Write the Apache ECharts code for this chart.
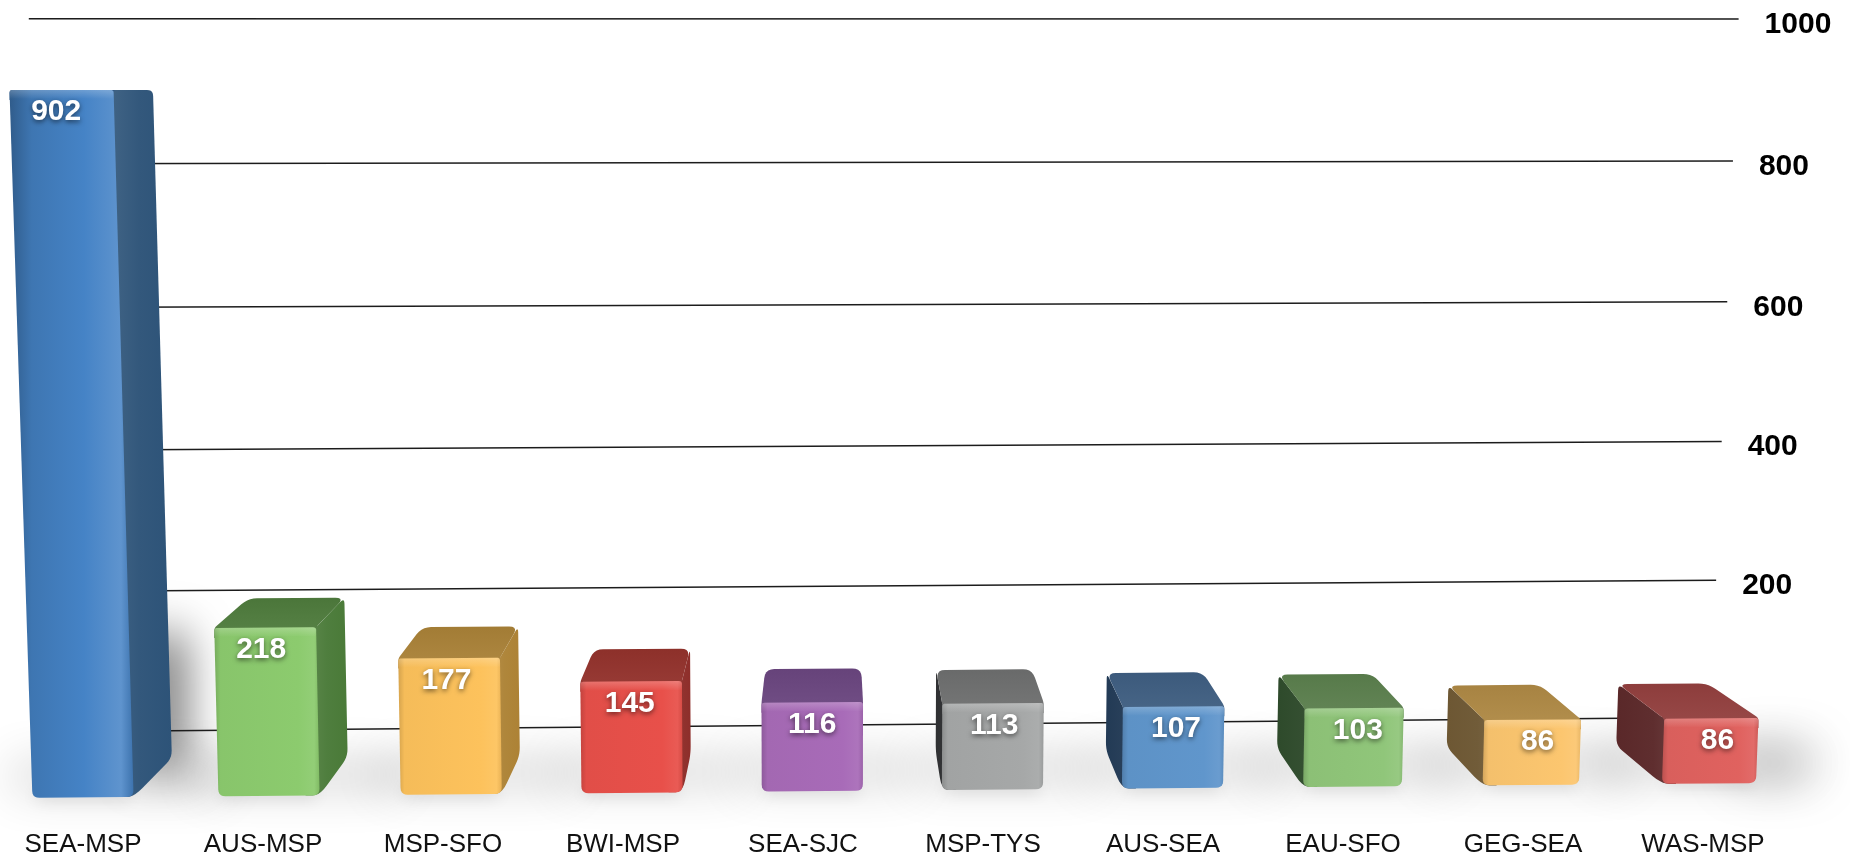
<!DOCTYPE html>
<html><head><meta charset="utf-8">
<style>html,body{margin:0;padding:0;background:#fff}#c{width:1850px;height:859px}</style>
<script src="https://cdn.jsdelivr.net/npm/echarts@6/dist/echarts.min.js"></script>
</head><body><div id="c"></div>
<script>
const categories = ['SEA-MSP','AUS-MSP','MSP-SFO','BWI-MSP','SEA-SJC','MSP-TYS','AUS-SEA','EAU-SFO','GEG-SEA','WAS-MSP'];
const values = [902,218,177,145,116,113,107,103,86,86];
const tickValues = [1000,800,600,400,200,0];
const tickLabels = ['1000','800','600','400','200',''];
const frontColors = ['#4583c6','#8ccb6e','#fdc25c','#e8504a','#a86bb8','#a6a8a8','#6096cc','#90c67a','#fcc66f','#e0625f'];
const topColors   = ['#35608f','#4f7c3d','#ab8238','#94322c','#6b4680','#6f7070','#3f5f82','#5c804e','#b08a45','#94403f'];
const sideColors  = ['#2d5378','#4a7a38','#ad8235','#8e2e2a','#5d3c70','#2f3032','#223a55','#2e4a2b','#6d5733','#5a2829'];

// perspective model
const VP = [830, 90], BAR_DEPTH = 0.945, WALL_DEPTH = 0.906;
const BASE_Y = 797.5, GRID_H = 786, GRID_LEFT = -7, GRID_W = 1800;
const OFF = 4000; // shadow casters sit off-canvas so only their blur shows
function warp(px, py, k) {
  let h = BASE_Y - py;
  const t = h / GRID_H;
  h -= 16 * t * (1 - t);
  const f = (px - 82) / 1625;
  const y = BASE_Y - 14 * f - h * (1 - 0.018 * f);
  const x = 832 + (px - 832) * (1 + h * 4.05e-5);
  return [VP[0] + k * (x - VP[0]), VP[1] + k * (y - VP[1])];
}
function hex(c){return [1,3,5].map(i=>parseInt(c.substr(i,2),16));}
function mix(c, t, a){const p=hex(c),q=hex(t);return 'rgb('+p.map((v,i)=>Math.round(v+(q[i]-v)*a)).join(',')+')';}
function roundPoly(pts, r) {
  const out = [], n = pts.length;
  for (let i = 0; i < n; i++) {
    const p = pts[i], a = pts[(i+n-1)%n], b = pts[(i+1)%n];
    const rr = Array.isArray(r) ? r[i] : r;
    if (!rr) { out.push(p); continue; }
    const la = Math.hypot(a[0]-p[0],a[1]-p[1]) || 1, lb = Math.hypot(b[0]-p[0],b[1]-p[1]) || 1;
    const ra = Math.min(rr, la/2)/la, rb = Math.min(rr, lb/2)/lb;
    const s = [p[0]+(a[0]-p[0])*ra, p[1]+(a[1]-p[1])*ra], e = [p[0]+(b[0]-p[0])*rb, p[1]+(b[1]-p[1])*rb];
    for (let t = 0; t <= 1.001; t += 0.2) {
      const u = 1-t;
      out.push([u*u*s[0]+2*u*t*p[0]+t*t*e[0], u*u*s[1]+2*u*t*p[1]+t*t*e[1]]);
    }
  }
  return out;
}
function barGeom(params, api) {
  const i = api.value(0), v = api.value(1);
  const top = api.coord([i, v]), base = api.coord([i, 0]);
  const band = api.size([1, 0])[0];
  const bx = base[0];
  const nudge = 9.5 * (1 - Math.exp(-(bx - 83) / 180)) - 3.5 * Math.max(0, (bx - 1351) / 350);
  const cx = bx + nudge;
  const hw = band * 0.281 * (1 - 0.07 * Math.max(0, (bx - 1162) / 539));
  const fr = {
    bl: warp(cx-hw, base[1], 1), br: warp(cx+hw, base[1], 1),
    tl: warp(cx-hw, top[1], 1),  tr: warp(cx+hw, top[1], 1)
  };
  const bk = {
    bl: warp(cx-hw, base[1], BAR_DEPTH), br: warp(cx+hw, base[1], BAR_DEPTH),
    tl: warp(cx-hw, top[1], BAR_DEPTH),  tr: warp(cx+hw, top[1], BAR_DEPTH)
  };
  return {i, v, fr, bk};
}
function blurRect(x0, y0, x1, y1, blur, alpha) {
  return {type:'polygon', shape:{points:[[x0-OFF,y0],[x1-OFF,y0],[x1-OFF,y1],[x0-OFF,y1]]},
    style:{fill:'#000', shadowBlur:blur, shadowColor:'rgba(0,0,0,'+alpha+')', shadowOffsetX:OFF}};
}
function renderShadow(params, api) {
  const g = barGeom(params, api), {fr, bk} = g;
  const yb = (fr.bl[1] + bk.bl[1]) / 2;
  const kids = [blurRect(Math.min(fr.bl[0],bk.bl[0])-20, yb-10, Math.max(fr.br[0],bk.br[0])+50, yb+6, 48, 0.3)];
  kids.push(blurRect(fr.bl[0]+4, fr.bl[1]-6, fr.br[0]-4, fr.br[1]+2, 16, 0.16));
  if (g.i === 0) {
    kids.push(blurRect(bk.br[0]-30, bk.br[1]-125, bk.br[0]+12, bk.br[1]+10, 46, 0.6));
  }
  if (g.i === values.length - 1) {
    kids.push(blurRect(fr.br[0]-20, yb-12, fr.br[0]+55, yb+8, 52, 0.36));
  }
  return {type:'group', silent:true, children:kids};
}
function renderBar(params, api) {
  const g = barGeom(params, api), {i, fr, bk} = g;
  const kids = [];
  const fc = frontColors[i], sc = sideColors[i], tc = topColors[i];
  const inner = 14;
  if (fr.br[0] < VP[0]) {
    const a = [fr.tr[0]-inner, fr.tr[1]], b = [fr.br[0]-inner, fr.br[1]];
    kids.push({type:'polygon', shape:{points:roundPoly([a,fr.tr,bk.tr,bk.br,fr.br,b],[0,0,6,8,12,0])},
      style:{fill:new echarts.graphic.LinearGradient(0,0,1,0,[{offset:0,color:mix(sc,'#ffffff',0.12)},{offset:0.55,color:mix(sc,'#ffffff',0.03)},{offset:1,color:sc}])}});
  }
  if (fr.bl[0] > VP[0]) {
    const a = [fr.tl[0]+inner, fr.tl[1]], b = [fr.bl[0]+inner, fr.bl[1]];
    kids.push({type:'polygon', shape:{points:roundPoly([a,fr.tl,bk.tl,bk.bl,fr.bl,b],[0,0,6,8,12,0])},
      style:{fill:new echarts.graphic.LinearGradient(0,0,1,0,[{offset:0,color:sc},{offset:0.6,color:mix(sc,'#ffffff',0.03)},{offset:1,color:mix(sc,'#ffffff',0.1)}])}});
  }
  const lift = 10;
  kids.push({type:'polygon', shape:{points:roundPoly([[fr.tl[0],fr.tl[1]+lift],fr.tl,bk.tl,bk.tr,fr.tr,[fr.tr[0],fr.tr[1]+lift]],[0,3,9,9,3,0])},
    style:{fill:new echarts.graphic.LinearGradient(0,0,0,1,[{offset:0,color:mix(tc,'#000000',0.05)},{offset:1,color:mix(tc,'#ffffff',0.05)}])}});
  const stops = i === 0 ? [
    {offset:0,color:mix(fc,'#000000',0.3)},
    {offset:0.18,color:mix(fc,'#000000',0.1)},
    {offset:0.6,color:fc},
    {offset:0.9,color:mix(fc,'#ffffff',0.14)},
    {offset:1,color:mix(fc,'#000000',0.12)}
  ] : [
    {offset:0,color:mix(fc,'#000000',0.16)},
    {offset:0.06,color:mix(fc,'#000000',0.03)},
    {offset:0.8,color:fc},
    {offset:0.95,color:mix(fc,'#ffffff',0.06)},
    {offset:1,color:mix(fc,'#000000',0.08)}
  ];
  kids.push({type:'polygon', shape:{points:roundPoly([fr.tl,fr.tr,fr.br,fr.bl],[3,3,7,7])},
    style:{fill:new echarts.graphic.LinearGradient(0,0,1,0,stops)}});
  kids.push({type:'polygon', shape:{points:roundPoly([fr.tl,fr.tr,[fr.tr[0],fr.tr[1]+9],[fr.tl[0],fr.tl[1]+9]],[3,3,0,0])},
    style:{fill:new echarts.graphic.LinearGradient(0,0,0,1,[{offset:0,color:'rgba(255,255,255,0.22)'},{offset:1,color:'rgba(255,255,255,0)'}])}});
  const mid = (fr.tl[0]+fr.tr[0])/2;
  kids.push({type:'text', style:{
    x: mid + (mid - VP[0]) * 0.007, y: fr.tl[1] + 22, text: String(g.v),
    fill:'#fff', font:'bold 30px "Liberation Sans", Arial, sans-serif', align:'center', verticalAlign:'middle',
    textShadowBlur:5, textShadowColor:'rgba(0,0,0,0.55)', textShadowOffsetY:2
  }});
  return {type:'group', children:kids};
}
function renderWall(params, api) {
  const idx = api.value(0), v = tickValues[idx];
  const y = api.coord([0, v])[1];
  const cs = params.coordSys;
  const a = warp(cs.x - 20, y, WALL_DEPTH), b = warp(cs.x + cs.width + 9, y, WALL_DEPTH);
  const kids = [{type:'line', shape:{x1:a[0],y1:a[1],x2:b[0],y2:b[1]},
    style:{stroke:'#1c1c1c', lineWidth:1.5}}];
  if (tickLabels[idx]) {
    kids.push({type:'text', style:{x:b[0]+26, y:b[1]+5.5, text:tickLabels[idx], fill:'#000',
      font:'bold 30px "Liberation Sans", Arial, sans-serif', align:'left', verticalAlign:'middle'}});
  }
  return {type:'group', silent:true, children:kids};
}
const barData = values.map((v,i)=>[i,v]);
const chart = echarts.init(document.getElementById('c'), null, {renderer:'canvas'});
chart.setOption({
  animation:false, backgroundColor:'#fff',
  grid:{left:GRID_LEFT, top:BASE_Y-GRID_H, width:GRID_W, height:GRID_H, containLabel:false, outerBoundsMode:'none'},
  xAxis:{type:'category', data:categories, axisLine:{show:false}, axisTick:{show:false}, splitLine:{show:false},
    axisLabel:{interval:0, margin:34, fontSize:26, color:'#111', fontFamily:'"Liberation Sans", Arial, sans-serif'}},
  yAxis:{type:'value', min:0, max:1000, interval:200, show:false},
  series:[
    {type:'custom', z:1, silent:true, coordinateSystem:'cartesian2d', renderItem:renderShadow, data:barData, encode:{x:0,y:1}, clip:false},
    {type:'custom', z:2, silent:true, coordinateSystem:'cartesian2d', renderItem:renderWall, data:tickValues.map((v,i)=>[i,v]), encode:{y:1}, clip:false},
    {type:'custom', z:3, coordinateSystem:'cartesian2d', renderItem:renderBar, data:barData, encode:{x:0,y:1}, clip:false}
  ]
});
</script></body></html>
